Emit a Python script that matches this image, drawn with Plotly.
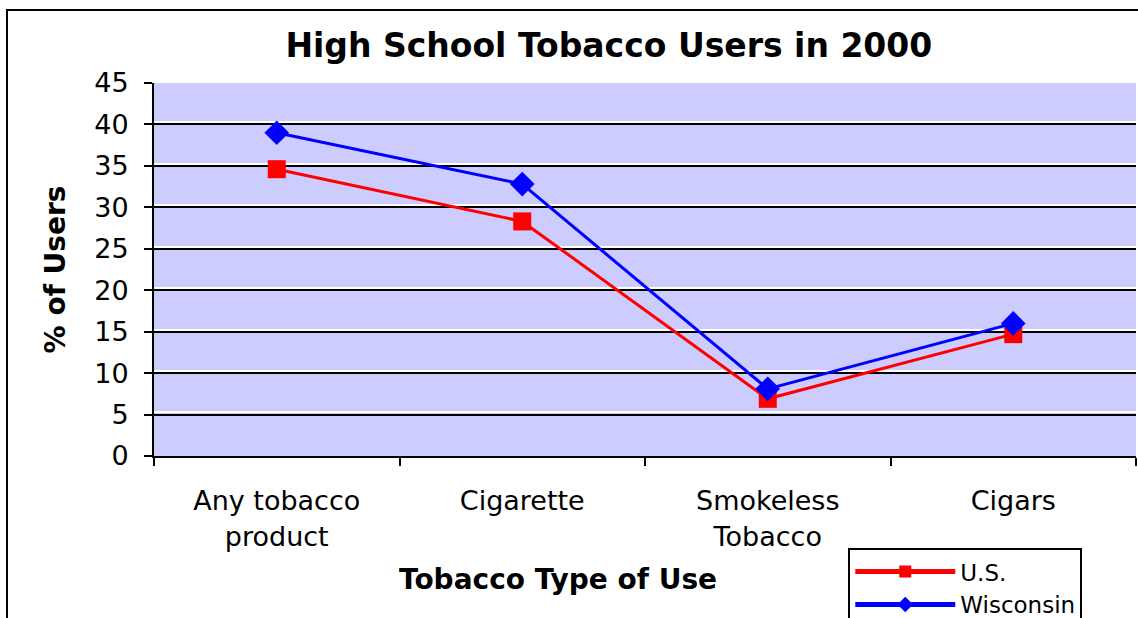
import plotly.graph_objects as go

categories = ["Any tobacco<br>product", "Cigarette", "Smokeless<br>Tobacco", "Cigars"]
us_values = [34.6, 28.3, 6.9, 14.7]
wi_values = [39.0, 32.8, 8.1, 16.0]
y_ticks = [0, 5, 10, 15, 20, 25, 30, 35, 40, 45]

FONT = "DejaVu Sans, Verdana, sans-serif"

fig = go.Figure()
# invisible helper trace to carry the white "shadow" gridline axis
fig.add_trace(go.Scatter(x=categories, y=us_values, mode="none", showlegend=False,
                         hoverinfo="skip", yaxis="y2"))
fig.add_trace(go.Scatter(
    x=categories, y=us_values, name="U.S.", mode="lines+markers",
    line=dict(color="#FF0000", width=3),
    marker=dict(symbol="square", size=18, color="#FF0000"),
))
fig.add_trace(go.Scatter(
    x=categories, y=wi_values, name="Wisconsin", mode="lines+markers",
    line=dict(color="#0000FF", width=3),
    marker=dict(symbol="diamond", size=19, color="#0000FF"),
))

fig.update_layout(
    width=1138, height=618,
    margin=dict(l=154, r=2, t=83, b=162, autoexpand=False),
    paper_bgcolor="white",
    plot_bgcolor="#CCCCFF",
    title=dict(text="<b>High School Tobacco Users in 2000</b>",
               x=0.535, xanchor="center", y=0.927, yanchor="middle",
               font=dict(family=FONT, size=33, color="black")),
    showlegend=True,
    legend=dict(x=0.707, xanchor="left", y=-0.247, yanchor="top",
                bordercolor="black", borderwidth=2, bgcolor="white",
                font=dict(family=FONT, size=23, color="black"),
                tracegroupgap=0, itemsizing="constant", itemwidth=100),
    xaxis=dict(
        type="category", range=[-0.5, 3.5], automargin=False,
        showline=True, linecolor="black", linewidth=2,
        ticks="outside", tickson="boundaries", ticklen=8, tickcolor="black", tickwidth=2,
        ticklabelstandoff=20,
        showgrid=False, zeroline=False,
        tickfont=dict(family=FONT, size=27, color="black"),
    ),
    yaxis=dict(
        range=[0, 45], tickvals=y_ticks, automargin=False,
        showline=True, linecolor="black", linewidth=2,
        ticks="outside", ticklen=8, tickcolor="black", tickwidth=2,
        ticklabelstandoff=10,
        showgrid=True, gridcolor="black", gridwidth=2,
        zeroline=False,
        tickfont=dict(family=FONT, size=27, color="black"),
        title=dict(text="<b>% of Users</b>", standoff=20,
                   font=dict(family=FONT, size=28, color="black")),
    ),
    yaxis2=dict(
        overlaying="y", range=[-0.25, 44.75], tickvals=y_ticks[1:-1],
        showgrid=True, gridcolor="white", gridwidth=2,
        showticklabels=False, showline=False, zeroline=False, ticks="",
        automargin=False,
    ),
    annotations=[dict(text="<b>Tobacco Type of Use</b>", xref="paper", yref="paper",
                      x=0.411, y=-0.332, xanchor="center", yanchor="middle",
                      showarrow=False, font=dict(family=FONT, size=28, color="black"))],
    shapes=[dict(type="rect", xref="paper", yref="paper",
                 x0=-0.1497, x1=1.2, y0=1.196, y1=-0.7,
                 line=dict(color="black", width=2), fillcolor="rgba(0,0,0,0)",
                 layer="below")],
)

fig.write_html("out.html")
